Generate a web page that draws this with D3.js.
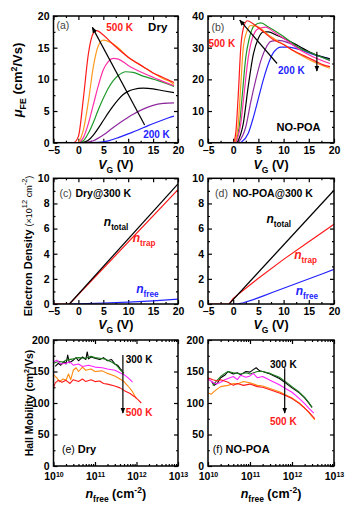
<!DOCTYPE html>
<html>
<head>
<meta charset="utf-8">
<script src="https://cdn.jsdelivr.net/npm/d3@7"></script>
<style>
  body { margin: 0; background: #fff; }
  svg { font-family: 'Liberation Sans', Arial, sans-serif; font-weight: bold; }
</style>
</head>
<body>
<div id="chart"></div>
<script>
// 温度颜色 (200 K -> 500 K)
const tempColors = ['#2323ff', '#8e2a9e', '#000000', '#1f9a2a', '#ff2fa8', '#ff9a1f', '#ff1a1a'];

// (a) Dry, mu_FE vs VG
const dryFE = [
  [[1, 0], [4, 0.05], [6, 0.3], [8, 0.8], [10, 1.4], [12, 2.0], [14, 2.7], [16, 3.3], [18, 3.9], [19.2, 4.2]],
  [[1, 0], [3, 0.3], [5, 1.2], [7, 2.4], [9, 3.5], [11, 4.5], [13, 5.3], [15, 5.9], [17, 6.2], [19.2, 6.3]],
  [[0.5, 0], [2, 0.4], [3, 1.2], [4, 2.3], [5, 3.5], [6, 4.7], [7, 5.8], [8, 6.8], [9, 7.6], [10, 8.1], [11, 8.4], [13, 8.6], [15, 8.5], [17, 8.2], [19.2, 7.9]],
  [[0, 0], [1, 0.3], [2, 1.5], [3, 3.2], [4, 5.2], [5, 7], [6, 8.6], [7, 9.8], [8, 10.6], [9.5, 11.2], [11, 11.1], [13, 10.5], [16, 9.8], [19.2, 8.9]],
  [[0, 0], [1, 0.8], [2, 3], [3, 6], [4, 9], [5, 11.5], [6, 12.8], [7, 13.3], [8, 13.2], [10, 12.2], [13, 11], [16, 10], [19.2, 9]],
  [[0, 0], [1, 2], [2, 6.5], [3, 12], [4, 15.3], [5, 16.2], [6, 16], [8, 15], [10, 13.5], [13, 12], [15, 11], [17, 10.1], [18.5, 9.6], [19.2, 9.2]],
  [[-3.2, 0], [-1, 0], [0, 1], [1, 7], [2, 14], [3, 17.3], [3.7, 17.7], [5, 17], [7, 15.5], [10, 13.5], [13, 12], [15, 11], [17, 10.3], [19.2, 9.5]]
];

// (b) NO-POA, mu_FE vs VG
const noPoaFE = [
  [[1.5, 0], [3, 3], [4, 8], [5, 14], [6, 20], [7, 25], [8, 28.5], [9.5, 30.2], [11, 30.2], [13, 29.5], [16, 27.8], [19.2, 26.5]],
  [[1, 0], [2.5, 5], [3.5, 13], [4.5, 20], [5.5, 26], [6.5, 30], [7.5, 32], [9, 32.3], [11, 31.5], [13, 30], [16, 28], [19.2, 26]],
  [[0.8, 0], [2, 6], [3, 18], [4, 28], [5, 33], [6, 35], [7, 35], [8.5, 34], [10, 33], [13, 30.5], [16, 28], [19.2, 26.5]],
  [[0.5, 0], [1.2, 5], [1.8, 15], [2.5, 27], [3.2, 33], [4.2, 37], [5.5, 37.8], [7, 36.5], [10, 33.5], [13, 30], [16, 28], [19.2, 26]],
  [[0.5, 0], [1.5, 6], [2.2, 16], [3, 27], [3.8, 33], [5, 36], [6.5, 36.5], [8, 35], [10, 33], [13, 29.5], [16, 27], [19.2, 25]],
  [[0.3, 0], [1, 6], [1.5, 18], [2, 30], [2.8, 35.5], [3.5, 37], [5, 36.5], [7, 34], [10, 31], [13, 28], [16, 25.5], [19.2, 23.5]],
  [[-4.1, 0], [0, 0], [0.5, 3], [1, 15], [1.5, 30], [2, 36], [2.8, 38.5], [4, 37.5], [6, 35], [8, 32.5], [10, 31], [12, 29], [14, 27.5], [16, 26], [18, 24.5], [19.2, 24]]
];

// (c) Dry@300 K, 电子密度
const dryTotal = [[-1.8, 0], [20, 9.55]];
const dryTrap = [[-5, 0], [-1.8, 0], [20, 9.1]];
const dryFree = [[-1.5, 0], [0, 0.02], [5, 0.08], [10, 0.15], [15, 0.25], [20, 0.38]];

// (d) NO-POA@300 K
const noPoaTotal = [[-0.8, 0], [20, 9.05]];
const noPoaTrap = [[-5, 0], [-0.8, 0], [0, 0.45], [2, 1.1], [5, 2.05], [10, 3.55], [15, 4.95], [20, 6.35]];
const noPoaFree = [[0, 0], [1, 0.02], [2, 0.1], [4, 0.35], [6, 0.65], [8, 0.95], [10, 1.25], [12, 1.55], [14, 1.85], [16, 2.15], [18, 2.45], [20, 2.75]];

// (e)(f) 霍尔迁移率颜色: 300 K -> 500 K
const hallColors = ['#000000', '#1a7a1a', '#ff22ff', '#ff8a10', '#ff1a1a'];

const dryHall = [
  [[1.1e10, 158], [1.3e10, 163], [1.5e10, 160], [1.8e10, 166], [2e10, 162], [2.2e10, 176], [2.4e10, 164], [3e10, 168], [3.5e10, 172], [4e10, 167], [5e10, 173], [6e10, 169], [6.5e10, 181], [7e10, 170], [8e10, 173], [1e11, 171], [1.3e11, 169], [1.6e11, 172], [2e11, 167], [2.5e11, 169], [3e11, 162], [3.5e11, 160], [4e11, 155], [4.5e11, 151]],
  [[1e10, 163], [1.3e10, 166], [1.7e10, 165], [2e10, 168], [3e10, 170], [4e10, 172], [6e10, 171], [8e10, 174], [1e11, 172], [1.3e11, 171], [1.7e11, 170], [2e11, 168], [2.5e11, 165], [3e11, 162], [3.5e11, 158], [4e11, 153], [5e11, 147]],
  [[1e10, 165], [1.2e10, 168], [1.5e10, 162], [2e10, 163], [2.5e10, 165], [3e10, 160], [4e10, 162], [5e10, 158], [7e10, 160], [1e11, 157], [1.5e11, 156], [2e11, 154], [3e11, 152], [4e11, 148], [5e11, 145], [6e11, 141], [7e11, 137], [8e11, 133]],
  [[1e10, 145], [1.2e10, 140], [1.4e10, 134], [1.7e10, 138], [2e10, 136], [2.3e10, 146], [2.6e10, 137], [3e10, 152], [3.5e10, 156], [4e10, 150], [5e10, 157], [6e10, 152], [8e10, 154], [1e11, 150], [1.5e11, 151], [2e11, 147], [3e11, 143], [4e11, 138], [5e11, 134], [6e11, 128], [7e11, 123], [8e11, 118], [9e11, 112], [1e12, 107]],
  [[1e10, 124], [1.1e10, 132], [1.3e10, 136], [1.6e10, 133], [2e10, 136], [2.5e10, 131], [3e10, 137], [4e10, 134], [5e10, 138], [6e10, 134], [8e10, 137], [1e11, 134], [1.3e11, 135], [1.6e11, 131], [2e11, 130], [3e11, 127], [4e11, 124], [5e11, 120], [7e11, 115], [9e11, 110], [1.1e12, 105], [1.3e12, 100]]
];

const noPoaHall = [
  [[1.2e10, 135], [1.4e10, 128], [1.7e10, 132], [2e10, 140], [2.5e10, 144], [3e10, 150], [4e10, 146], [5e10, 148], [6e10, 145], [8e10, 150], [1e11, 149], [1.2e11, 153], [1.4e11, 156], [1.7e11, 151], [2e11, 150], [3e11, 146], [5e11, 139], [7e11, 132], [1e12, 124], [1.5e12, 116], [2e12, 108], [2.5e12, 100], [3e12, 93]],
  [[1.3e10, 128], [1.6e10, 135], [2e10, 142], [2.5e10, 147], [3e10, 150], [4e10, 148], [6e10, 146], [8e10, 148], [1e11, 146], [1.5e11, 150], [2e11, 150], [3e11, 147], [5e11, 141], [7e11, 134], [1e12, 126], [1.5e12, 117], [2e12, 109], [2.5e12, 101], [3e12, 93]],
  [[1e10, 138], [1.3e10, 133], [1.6e10, 130], [2e10, 133], [2.5e10, 137], [3e10, 139], [4e10, 142], [5e10, 137], [6e10, 144], [8e10, 141], [1e11, 143], [1.2e11, 147], [1.5e11, 140], [2e11, 142], [3e11, 136], [5e11, 129], [7e11, 123], [1e12, 117], [1.5e12, 107], [2e12, 99], [2.5e12, 92], [3.3e12, 84]],
  [[1e10, 116], [1.2e10, 114], [1.5e10, 120], [2e10, 126], [3e10, 128], [4e10, 131], [5e10, 130], [7e10, 134], [1e11, 132], [1.5e11, 128], [2e11, 127], [3e11, 123], [5e11, 118], [7e11, 113], [1e12, 108], [1.5e12, 100], [2e12, 92], [2.5e12, 85], [3.5e12, 73]],
  [[1e10, 140], [1.3e10, 137], [1.7e10, 135], [2e10, 137], [3e10, 133], [4e10, 128], [5e10, 131], [7e10, 128], [1e11, 130], [1.5e11, 126], [2e11, 125], [3e11, 121], [5e11, 116], [7e11, 112], [1e12, 107], [1.5e12, 99], [2e12, 92], [2.5e12, 86], [3.5e12, 75]]
];

// 刻度
const vgTicks = [-5, 0, 5, 10, 15, 20];
const feTicksA = [0, 5, 10, 15, 20];
const feTicksB = [0, 10, 20, 30, 40];
const densTicks = [0, 2, 4, 6, 8, 10];
const hallTicks = [0, 50, 100, 150, 200];
const nTicks = [1e10, 1e11, 1e12, 1e13];

const svg = d3.select('#chart').append('svg').attr('width', 353).attr('height', 506);

svg.append('defs').append('marker')
  .attr('id', 'arr').attr('viewBox', '0 0 10 10').attr('refX', 9).attr('refY', 5)
  .attr('markerWidth', 5).attr('markerHeight', 5).attr('orient', 'auto')
  .append('path').attr('d', 'M0,1 L10,5 L0,9 Z').attr('fill', '#000');

// 富文本 (上下标)
function rich(sel, parts, size) {
  let shift = 0;
  parts.forEach(p => {
    const target = p.sub ? size * 0.32 : p.sup ? -size * 0.42 : 0;
    const ts = sel.append('tspan').text(p.t)
      .attr('dy', target - shift)
      .style('font-size', (p.sub || p.sup ? size * 0.68 : (p.size || size)) + 'px');
    if (p.it) ts.style('font-style', 'italic');
    if (p.w) ts.style('font-weight', p.w);
    shift = target;
  });
  return sel;
}

// 次刻度
function minorLinear(ticks) {
  const out = [];
  for (let i = 0; i < ticks.length - 1; i++) out.push((ticks[i] + ticks[i + 1]) / 2);
  return out;
}
function minorLog(ticks) {
  const out = [];
  for (let i = 0; i < ticks.length - 1; i++) {
    for (let k = 2; k <= 9; k++) out.push(ticks[i] * k);
  }
  return out;
}

let clipId = 0;
function panel(box, xDom, yDom, xTicks, yTicks, logX) {
  const x = (logX ? d3.scaleLog() : d3.scaleLinear()).domain(xDom).range([box.x0, box.x1]);
  const y = d3.scaleLinear().domain(yDom).range([box.y1, box.y0]);
  const g = svg.append('g');
  const id = 'clip' + (clipId++);
  g.append('clipPath').attr('id', id).append('rect')
    .attr('x', box.x0).attr('y', box.y0).attr('width', box.x1 - box.x0).attr('height', box.y1 - box.y0);

  const xMinor = logX ? minorLog(xTicks) : minorLinear(xTicks);
  const yMinor = minorLinear(yTicks);

  // 次刻度 (四边)
  [[d3.axisBottom, box.y1], [d3.axisTop, box.y0]].forEach(([ax, pos]) => {
    g.append('g').attr('class', 'minor').attr('transform', `translate(0,${pos})`)
      .call(ax(x).tickValues(xMinor).tickSize(-2).tickFormat(''));
  });
  [[d3.axisLeft, box.x0], [d3.axisRight, box.x1]].forEach(([ax, pos]) => {
    g.append('g').attr('class', 'minor').attr('transform', `translate(${pos},0)`)
      .call(ax(y).tickValues(yMinor).tickSize(-2).tickFormat(''));
  });

  const fmt = logX ? () => '' : d3.format('d');
  const bottom = g.append('g').attr('transform', `translate(0,${box.y1})`)
    .call(d3.axisBottom(x).tickValues(xTicks).tickSize(-4).tickPadding(logX ? 7 : 4).tickFormat(fmt));
  g.append('g').attr('transform', `translate(0,${box.y0})`)
    .call(d3.axisTop(x).tickValues(xTicks).tickSize(-4).tickFormat(''));
  g.append('g').attr('transform', `translate(${box.x0},0)`)
    .call(d3.axisLeft(y).tickValues(yTicks).tickSize(-4).tickPadding(4).tickFormat(d3.format('d')));
  g.append('g').attr('transform', `translate(${box.x1},0)`)
    .call(d3.axisRight(y).tickValues(yTicks).tickSize(-4).tickFormat(''));
  g.selectAll('.domain').remove();
  g.selectAll('.tick line').attr('stroke', '#000').attr('stroke-width', 1.2);
  g.selectAll('.tick text').attr('fill', '#000')
    .style('font-size', '10.5px').style('font-weight', 'bold').style('font-family', "'Liberation Sans', Arial, sans-serif");

  if (logX) {
    bottom.selectAll('.tick text').each(function (d) {
      const t = d3.select(this);
      t.text('');
      t.append('tspan').text('10');
      t.append('tspan').attr('dy', '-0.5em').style('font-size', '7px').text(Math.round(Math.log10(d)));
    });
  }

  const plot = g.append('g').attr('clip-path', `url(#${id})`);
  g.append('rect').attr('x', box.x0).attr('y', box.y0)
    .attr('width', box.x1 - box.x0).attr('height', box.y1 - box.y0)
    .attr('fill', 'none').attr('stroke', '#000').attr('stroke-width', 1.5);
  return { x, y, g, plot };
}

function curves(p, series, colors, smooth, width) {
  const line = d3.line().x(d => p.x(d[0])).y(d => p.y(d[1]));
  if (smooth) line.curve(d3.curveMonotoneX);
  series.forEach((s, i) => {
    p.plot.append('path').attr('d', line(s)).attr('fill', 'none')
      .attr('stroke', colors[i]).attr('stroke-width', width || 1.2).attr('stroke-linejoin', 'round');
  });
}

function label(p, xv, yv, parts, size, color, anchor) {
  const t = p.g.append('text').attr('x', p.x(xv)).attr('y', p.y(yv))
    .attr('fill', color || '#000').attr('text-anchor', anchor || 'start');
  rich(t, parts, size);
  return t;
}

function arrow(p, a, b) {
  p.g.append('line').attr('x1', p.x(a[0])).attr('y1', p.y(a[1]))
    .attr('x2', p.x(b[0])).attr('y2', p.y(b[1]))
    .attr('stroke', '#000').attr('stroke-width', 1.2).attr('marker-end', 'url(#arr)');
}

const L0 = 53.5, L1 = 178, R0 = 208, R1 = 334;
const boxA = { x0: L0, x1: L1, y0: 16, y1: 142.7 };
const boxB = { x0: R0, x1: R1, y0: 16, y1: 142.7 };
const boxC = { x0: L0, x1: L1, y0: 178.3, y1: 304 };
const boxD = { x0: R0, x1: R1, y0: 178.3, y1: 304 };
const boxE = { x0: L0, x1: L1, y0: 340, y1: 466 };
const boxF = { x0: R0, x1: R1, y0: 340, y1: 466 };

// (a)
const pa = panel(boxA, [-5, 20], [0, 20], vgTicks, feTicksA);
curves(pa, dryFE, tempColors, true);
arrow(pa, [13.3, 2.8], [2.8, 18.2]);
label(pa, -4.4, 18, [{ t: '(a)', w: 'normal' }], 10.5, '#444');
label(pa, 5.6, 17.6, [{ t: '500 K' }], 10, '#ff1a1a');
label(pa, 14, 17.6, [{ t: 'Dry' }], 11.5);
label(pa, 13, 0.8, [{ t: '200 K' }], 10, '#2323ff');

// (b)
const pb = panel(boxB, [-5, 20], [0, 40], vgTicks, feTicksB);
curves(pb, noPoaFE, tempColors, true);
arrow(pb, [8.7, 25], [1.3, 38.7]);
arrow(pb, [16.6, 28.7], [16.6, 22.6]);
label(pb, -4.3, 35.3, [{ t: '(b)', w: 'normal' }], 10.5, '#444');
label(pb, -4.9, 30.3, [{ t: '500 K' }], 10, '#ff1a1a');
label(pb, 8.9, 21.8, [{ t: '200 K' }], 10, '#2323ff');
label(pb, 8.6, 3.6, [{ t: 'NO-POA' }], 11);

// (c)
const pc = panel(boxC, [-5, 20], [0, 10], vgTicks, densTicks);
curves(pc, [dryTrap, dryTotal, dryFree], ['#ff1a1a', '#000', '#2323ff'], false);
label(pc, -3.8, 8.55, [{ t: '(c)', w: 'normal' }], 10.5, '#444');
label(pc, -0.6, 8.55, [{ t: 'Dry@300 K' }], 10.5);
label(pc, 5.1, 6.2, [{ t: 'n', it: true }, { t: 'total', sub: true }], 12);
label(pc, 10.9, 4.9, [{ t: 'n', it: true }, { t: 'trap', sub: true }], 12, '#ff1a1a');
label(pc, 11.6, 0.85, [{ t: 'n', it: true }, { t: 'free', sub: true }], 12, '#2323ff');

// (d)
const pd = panel(boxD, [-5, 20], [0, 10], vgTicks, densTicks);
curves(pd, [noPoaTrap, noPoaTotal, noPoaFree], ['#ff1a1a', '#000', '#2323ff'], false);
label(pd, -3.6, 8.55, [{ t: '(d)', w: 'normal' }], 10.5, '#444');
label(pd, -0.1, 8.55, [{ t: 'NO-POA@300 K' }], 10.5);
label(pd, 6.6, 6.45, [{ t: 'n', it: true }, { t: 'total', sub: true }], 12);
label(pd, 12.1, 3.6, [{ t: 'n', it: true }, { t: 'trap', sub: true }], 12, '#ff1a1a');
label(pd, 12.4, 0.7, [{ t: 'n', it: true }, { t: 'free', sub: true }], 12, '#2323ff');

// (e)
const pe = panel(boxE, [1e10, 1e13], [0, 200], nTicks, hallTicks, true);
curves(pe, dryHall, hallColors, false, 1.1);
arrow(pe, [4.7e11, 176], [4.7e11, 84]);
label(pe, 5.5e11, 163, [{ t: '300 K' }], 10);
label(pe, 5.5e11, 79, [{ t: '500 K' }], 10, '#ff1a1a');
label(pe, 1.6e10, 21, [{ t: '(e) ', w: 'normal', size: 10.5 }, { t: 'Dry' }], 11, '#000');

// (f)
const pf = panel(boxF, [1e10, 1e13], [0, 200], nTicks, hallTicks, true);
curves(pf, noPoaHall, hallColors, false, 1.1);
arrow(pf, [6.7e11, 155], [6.7e11, 84]);
label(pf, 6.2e11, 156, [{ t: '300 K' }], 10, '#000', 'middle');
label(pf, 6.2e11, 65, [{ t: '500 K' }], 10, '#ff1a1a', 'middle');
label(pf, 1.3e10, 21, [{ t: '(f)  ', w: 'normal', size: 10.5 }, { t: 'NO-POA' }], 11, '#000');

// 轴标题
function xTitle(cx, y, parts, size) {
  const t = svg.append('text').attr('x', cx).attr('y', y).attr('text-anchor', 'middle');
  rich(t, parts, size);
}
function yTitle(x, cy, parts, size) {
  const t = svg.append('text').attr('transform', `translate(${x},${cy}) rotate(-90)`).attr('text-anchor', 'middle');
  rich(t, parts, size);
}
const vgLabel = [{ t: 'V', it: true }, { t: 'G', sub: true }, { t: ' (V)' }];
xTitle((L0 + L1) / 2, 168.5, vgLabel, 12.5);
xTitle((R0 + R1) / 2, 168.5, vgLabel, 12.5);
xTitle((L0 + L1) / 2, 329, vgLabel, 12.5);
xTitle((R0 + R1) / 2, 329, vgLabel, 12.5);
const nLabel = [{ t: 'n', it: true }, { t: 'free', sub: true }, { t: ' (cm' }, { t: '-2', sup: true }, { t: ')' }];
xTitle((L0 + L1) / 2, 498, nLabel, 12.5);
xTitle((R0 + R1) / 2, 498, nLabel, 12.5);

yTitle(22, 80, [{ t: 'μ', it: true }, { t: 'FE', sub: true }, { t: ' (cm' }, { t: '2', sup: true }, { t: '/Vs)' }], 13);
yTitle(32, 246, [{ t: 'Electron Density ' }, { t: '(×10', w: 'normal', size: 9 }, { t: '12', sup: true, w: 'normal' }, { t: ' cm', w: 'normal', size: 9 }, { t: '-2', sup: true, w: 'normal' }, { t: ')', w: 'normal', size: 9 }], 11);
yTitle(33, 403, [{ t: 'Hall Mobility (cm' }, { t: '2', sup: true }, { t: '/Vs)' }], 10.5);
</script>
</body>
</html>
